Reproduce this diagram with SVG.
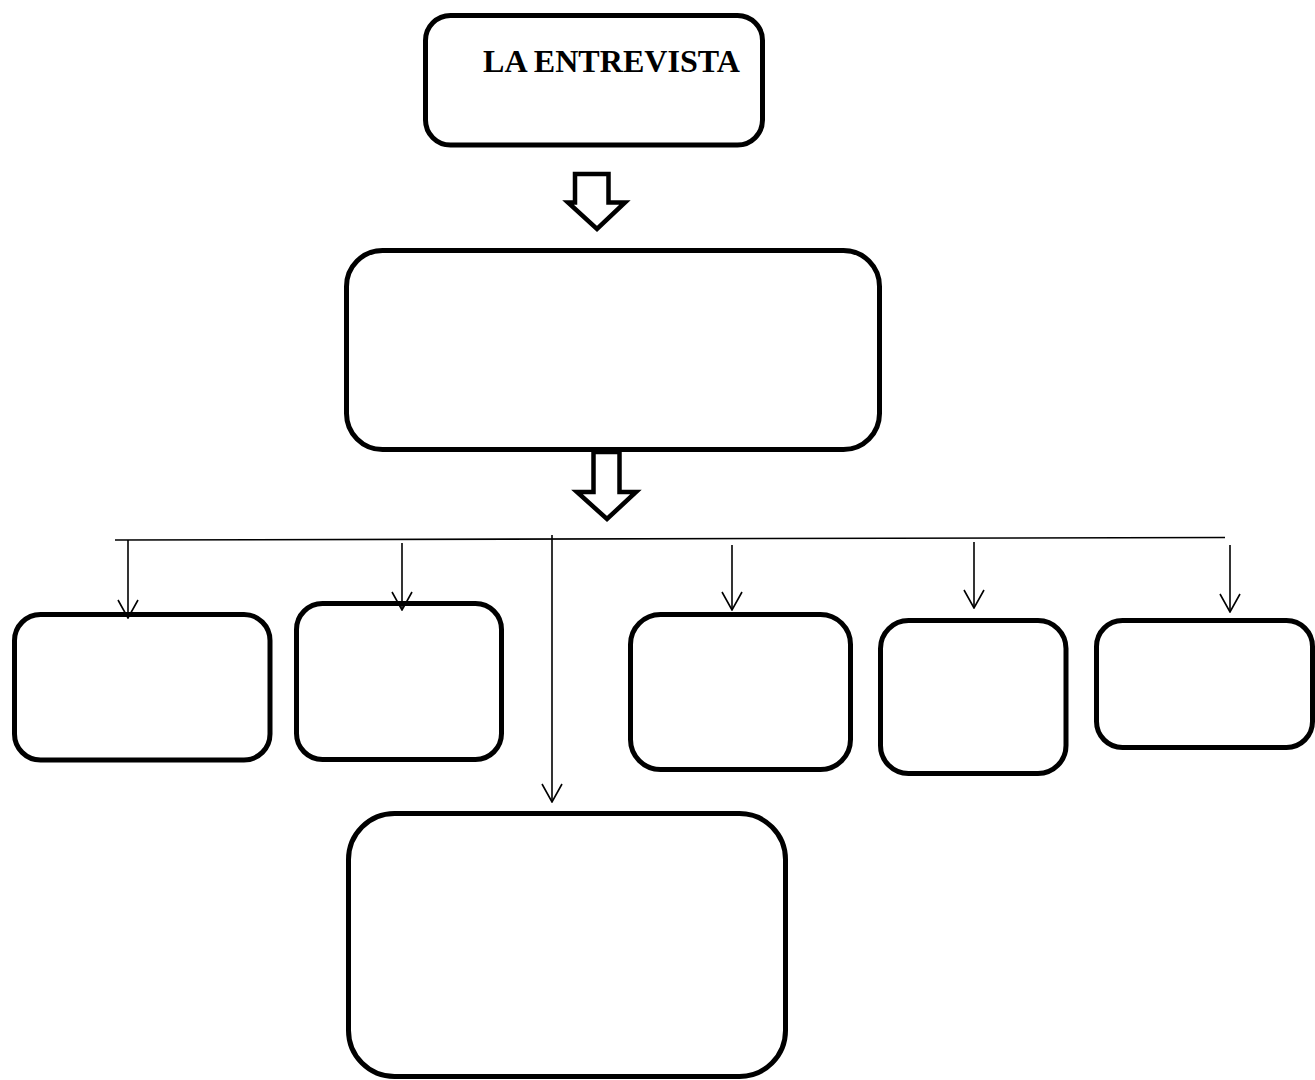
<svg xmlns="http://www.w3.org/2000/svg" width="1315" height="1080" viewBox="0 0 1315 1080">
<style>
.box{fill:#fff;stroke:#000;stroke-width:5}
.block{fill:#fff;stroke:#000;stroke-width:4.5;stroke-linejoin:miter}
.conn{fill:none;stroke:#000;stroke-width:1.6}
.title{font-family:"Liberation Serif","Times New Roman",serif;font-weight:bold;font-size:32px;fill:#000}
</style>
<defs>
<marker id="open" markerUnits="userSpaceOnUse" viewBox="0 0 21 22" refX="20" refY="11" markerWidth="21" markerHeight="22" orient="auto">
<path d="M2,1 L20,11 L2,21" fill="none" stroke="#000" stroke-width="1.6"/>
</marker>
</defs>
<rect width="1315" height="1080" fill="#fff"/>
<g id="node-entrevista">
<rect class="box" x="425.5" y="15.5" width="337" height="129.5" rx="25" ry="25"/>
<text class="title" x="483" y="72" textLength="257" lengthAdjust="spacingAndGlyphs">LA ENTREVISTA</text>
</g>
<g id="node-middle">
<rect class="box" x="346.5" y="250.5" width="533" height="199" rx="36" ry="36"/>
</g>
<g id="node-b1">
<rect class="box" x="14.5" y="614.5" width="255.5" height="145.5" rx="26" ry="26"/>
</g>
<g id="node-b2">
<rect class="box" x="296.5" y="603.5" width="205" height="156" rx="26" ry="26"/>
</g>
<g id="node-b3">
<rect class="box" x="630.5" y="614.5" width="220" height="155" rx="30" ry="30"/>
</g>
<g id="node-b4">
<rect class="box" x="880.5" y="620.5" width="185.5" height="153" rx="28" ry="28"/>
</g>
<g id="node-b5">
<rect class="box" x="1096.5" y="620.5" width="216" height="127" rx="26" ry="26"/>
</g>
<g id="node-bottom">
<rect class="box" x="348.5" y="813.5" width="437" height="263" rx="46" ry="46"/>
</g>
<g id="connectors">
<polygon class="block" points="575,174 608.5,174 608.5,202.5 625,202.5 597,229 568,202.5 575,202.5"/>
<polygon class="block" points="593.5,452 619.5,452 619.5,492 636,492 607,519 577,492 593.5,492"/>
<line class="conn" x1="115" y1="540" x2="1225" y2="537.5"/>
<line class="conn" x1="128" y1="540" x2="128" y2="618" marker-end="url(#open)"/>
<line class="conn" x1="402" y1="543" x2="402" y2="610" marker-end="url(#open)"/>
<line class="conn" x1="552" y1="535" x2="552" y2="802" marker-end="url(#open)"/>
<line class="conn" x1="732" y1="545" x2="732" y2="610" marker-end="url(#open)"/>
<line class="conn" x1="974" y1="542" x2="974" y2="608" marker-end="url(#open)"/>
<line class="conn" x1="1230" y1="545" x2="1230" y2="612" marker-end="url(#open)"/>
</g>
</svg>
